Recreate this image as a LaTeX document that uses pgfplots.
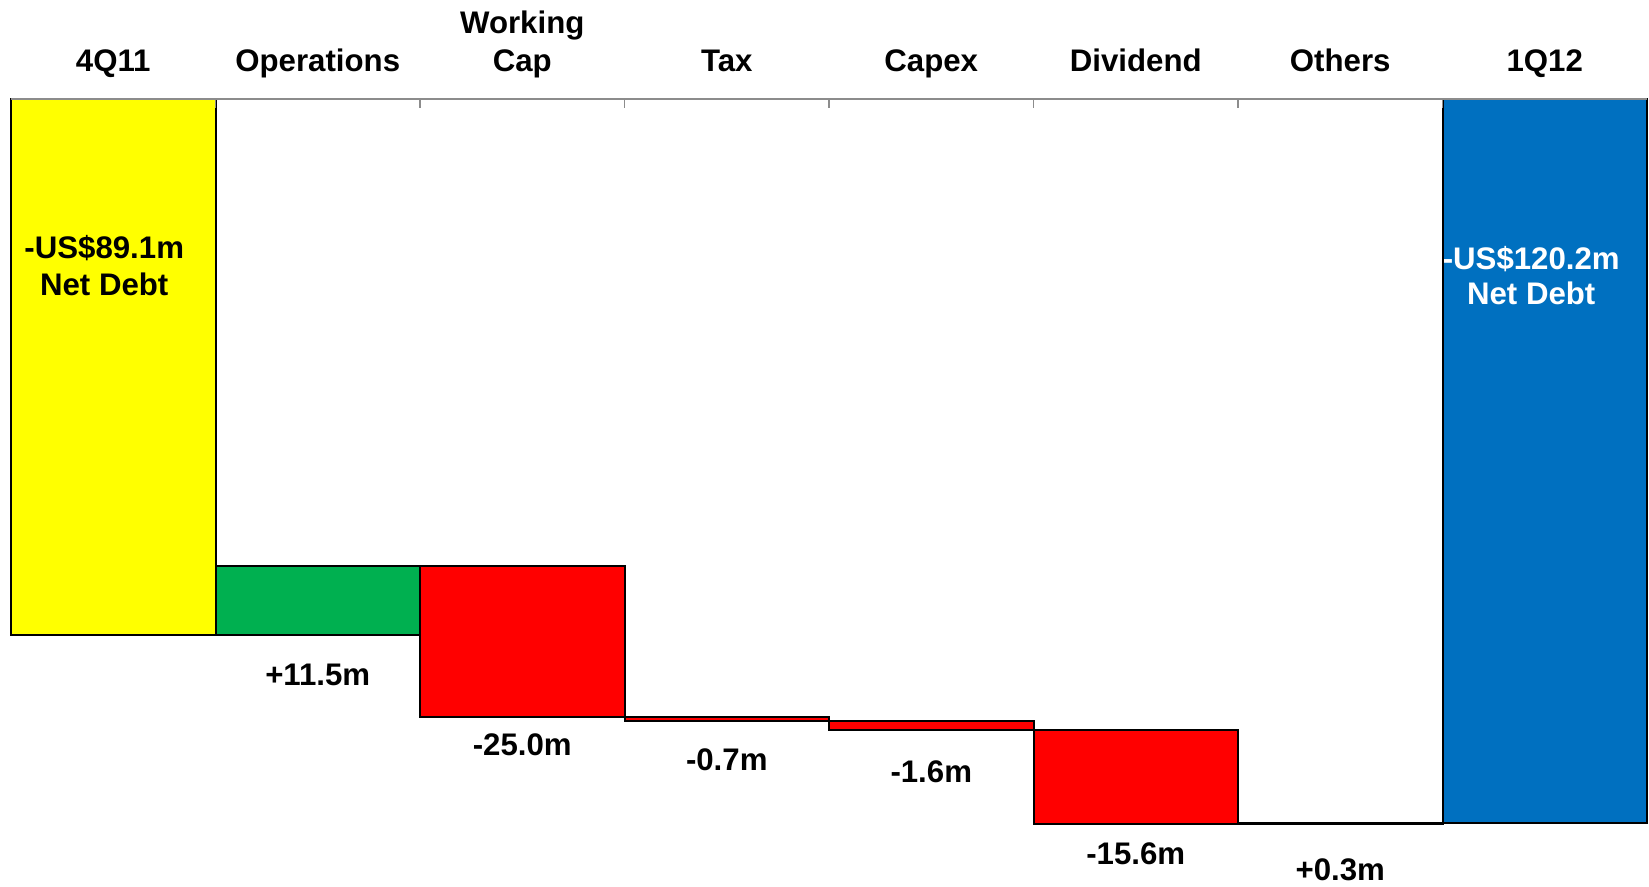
\documentclass[border=0pt]{standalone}
\usepackage{fontspec}
\setmainfont{Liberation Sans}
\usepackage{pgfplots}
\pgfplotsset{compat=1.18}
\definecolor{wfyellow}{HTML}{FFFF00}
\definecolor{wfgreen}{HTML}{00B050}
\definecolor{wfred}{HTML}{FF0000}
\definecolor{wfblue}{HTML}{0070C0}
\definecolor{axgray}{HTML}{8C8C8C}
\newcommand{\lblfont}{\bfseries\fontsize{15.6}{19}\selectfont}
\begin{document}
\begin{tikzpicture}
\path[use as bounding box] (-5.5pt,0pt) rectangle (819pt,443.5pt);
\begin{axis}[
  width=818pt, height=394.2pt, scale only axis,
  xmin=-0.5, xmax=7.5, ymin=-130.9, ymax=0,
  axis x line*=top, axis y line=none,
  x axis line style={-, draw=axgray, line width=1pt},
  xtick={0,1,2,3,4,5,6,7},
  xticklabels={4Q11,Operations,{Working\\Cap},Tax,Capex,Dividend,Others,1Q12},
  major x tick style={draw=none},
  minor xtick={0.5,1.5,2.5,3.5,4.5,5.5,6.5},
  minor x tick style={draw=axgray, line width=0.8pt},
  minor tick length=4.5pt,
  tick align=inside,
  xticklabel style={font=\lblfont, align=center, anchor=south, inner sep=0pt, text depth=0pt, yshift=13.1pt},
  ytick=\empty,
  axis on top,
  clip=false,
]
% bars: corners from the waterfall's running total
\addplot[fill=wfyellow, draw=black, line width=1pt, mark=none] coordinates {(-0.5,0) (0.5,0) (0.5,-89.1) (-0.5,-89.1)} -- cycle;
\addplot[fill=wfgreen, draw=black, line width=1pt, mark=none] coordinates {(0.5,-77.6) (1.5,-77.6) (1.5,-89.1) (0.5,-89.1)} -- cycle;
\addplot[fill=wfred, draw=black, line width=1pt, mark=none] coordinates {(1.5,-77.6) (2.5,-77.6) (2.5,-102.6) (1.5,-102.6)} -- cycle;
\addplot[fill=wfred, draw=black, line width=1pt, mark=none] coordinates {(2.5,-102.6) (3.5,-102.6) (3.5,-103.3) (2.5,-103.3)} -- cycle;
\addplot[fill=wfred, draw=black, line width=1pt, mark=none] coordinates {(3.5,-103.3) (4.5,-103.3) (4.5,-104.9) (3.5,-104.9)} -- cycle;
\addplot[fill=wfred, draw=black, line width=1pt, mark=none] coordinates {(4.5,-104.9) (5.5,-104.9) (5.5,-120.5) (4.5,-120.5)} -- cycle;
\addplot[fill=white, draw=black, line width=1pt, mark=none] coordinates {(5.5,-120.2) (6.5,-120.2) (6.5,-120.5) (5.5,-120.5)} -- cycle;
\addplot[fill=wfblue, draw=black, line width=1pt, mark=none] coordinates {(6.5,0) (7.5,0) (7.5,-120.2) (6.5,-120.2)} -- cycle;
% labels
\node[font=\lblfont, anchor=base] at (axis cs:-0.044,-26.47) {-US\$89.1m};
\node[font=\lblfont, anchor=base] at (axis cs:-0.044,-32.76) {Net Debt};
\node[font=\lblfont, anchor=base, text=white] at (axis cs:6.934,-28.3) {-US\$120.2m};
\node[font=\lblfont, anchor=base, text=white] at (axis cs:6.934,-34.2) {Net Debt};
\node[font=\lblfont, anchor=base] at (axis cs:1,-97.4) {+11.5m};
\node[font=\lblfont, anchor=base] at (axis cs:2,-109.1) {-25.0m};
\node[font=\lblfont, anchor=base] at (axis cs:3,-111.5) {-0.7m};
\node[font=\lblfont, anchor=base] at (axis cs:4,-113.6) {-1.6m};
\node[font=\lblfont, anchor=base] at (axis cs:5,-127.2) {-15.6m};
\node[font=\lblfont, anchor=base] at (axis cs:6,-129.9) {+0.3m};
\end{axis}
\end{tikzpicture}
\end{document}
